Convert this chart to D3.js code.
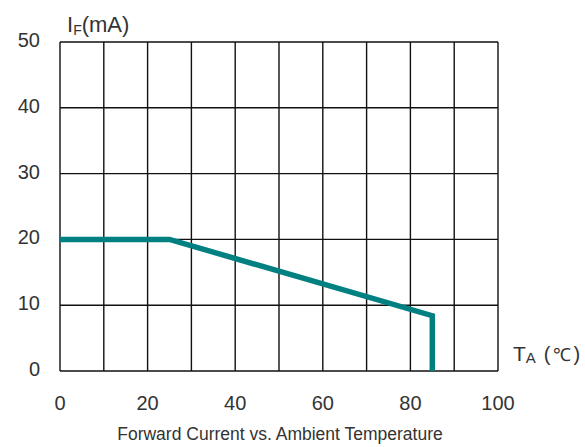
<!DOCTYPE html>
<html>
<head>
<meta charset="utf-8">
<script src="https://cdn.jsdelivr.net/npm/d3@7"></script>
<style>
  html, body { margin: 0; padding: 0; background: #fff; }
  svg { display: block; font-family: "Liberation Sans", Arial, sans-serif; }
</style>
</head>
<body>
<svg id="chart" width="585" height="447"></svg>
<script>
// Derating curve: forward current vs. ambient temperature
const tempC = [0, 25, 85, 85];
const currentMA = [20, 20, 8.4, 0];
const xTicks = [0, 20, 40, 60, 80, 100];
const yTicks = [0, 10, 20, 30, 40, 50];
const xGrid = d3.range(0, 101, 10);
const yGrid = d3.range(0, 51, 10);

const svg = d3.select("#chart");
const margin = { left: 60, right: 87, top: 42, bottom: 76 };
const W = 585, H = 447;

const x = d3.scaleLinear().domain([0, 100]).range([margin.left, W - margin.right]);
const y = d3.scaleLinear().domain([0, 50]).range([H - margin.bottom, margin.top]);

// grid
const grid = svg.append("g").attr("stroke", "#111").attr("stroke-width", 1.4);
grid.selectAll("line.v").data(xGrid).join("line")
  .attr("x1", d => x(d)).attr("x2", d => x(d))
  .attr("y1", y(0)).attr("y2", y(50));
grid.selectAll("line.h").data(yGrid).join("line")
  .attr("y1", d => y(d)).attr("y2", d => y(d))
  .attr("x1", x(0)).attr("x2", x(100));

// tick labels
const tickColor = "#333";
svg.append("g").selectAll("text").data(yTicks).join("text")
  .attr("x", x(0) - 20).attr("y", d => y(d) + 5)
  .attr("text-anchor", "end").attr("font-size", 20).attr("fill", tickColor)
  .text(d => d);
svg.append("g").selectAll("text").data(xTicks).join("text")
  .attr("x", d => x(d)).attr("y", y(0) + 38.5)
  .attr("text-anchor", "middle").attr("font-size", 20).attr("fill", tickColor)
  .text(d => d);

// curve
const line = d3.line().x((d, i) => x(tempC[i])).y(d => y(d));
svg.append("path").datum(currentMA)
  .attr("d", line)
  .attr("fill", "none")
  .attr("stroke", "#008080")
  .attr("stroke-width", 5.5)
  .attr("stroke-linejoin", "miter");

// axis titles
const yt = svg.append("text").attr("x", 67).attr("y", 32).attr("font-size", 22).attr("fill", tickColor);
yt.append("tspan").text("I");
yt.append("tspan").attr("font-size", 14).attr("dy", 3).text("F");
yt.append("tspan").attr("dy", -3).text("(mA)");

const xt = svg.append("text").attr("x", 513).attr("y", 361).attr("font-size", 21).attr("fill", tickColor);
xt.append("tspan").text("T");
xt.append("tspan").attr("font-size", 15).attr("dy", 2).text("A");
xt.append("tspan").attr("dy", -2).attr("dx", 8).attr("font-size", 20).text("(");
xt.append("tspan").attr("dx", 2).attr("font-size", 18).text("℃");
xt.append("tspan").attr("dx", 3).attr("font-size", 20).text(")");

// caption
svg.append("text").attr("x", 280).attr("y", 440)
  .attr("text-anchor", "middle").attr("font-size", 17.5).attr("fill", tickColor)
  .text("Forward Current vs. Ambient Temperature");
</script>
</body>
</html>
